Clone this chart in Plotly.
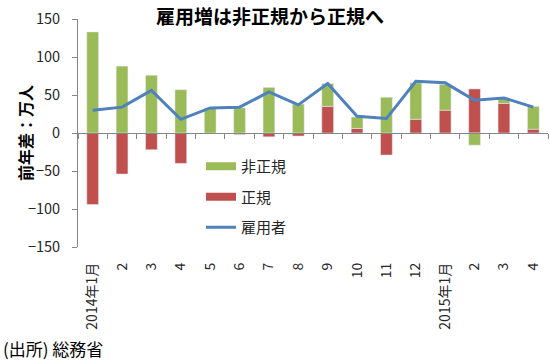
import plotly.graph_objects as go

periods = ["2014-01", "2014-02", "2014-03", "2014-04", "2014-05", "2014-06",
           "2014-07", "2014-08", "2014-09", "2014-10", "2014-11", "2014-12",
           "2015-01", "2015-02", "2015-03", "2015-04"]
tick_labels = ["2014年1月", "2", "3", "4", "5", "6", "7", "8", "9", "10", "11", "12",
               "2015年1月", "2", "3", "4"]
non_regular = [133, 88, 76, 57, 33, 33, 60, 38, 30, 15, 47, 48, 34, -16, 7, 30]
regular = [-94, -54, -22, -40, 0, -2, -5, -4, 35, 6, -29, 18, 30, 58, 39, 5]
employed = [30, 34, 56, 18, 33, 34, 54, 37, 65, 22, 19, 68, 66, 43, 46, 34]

GREEN = "#9BBB59"
RED = "#C0504D"
BLUE = "#4F81BD"
AXIS = "#868686"
FONT = "Noto Sans CJK JP"

fig = go.Figure()

fig.add_trace(go.Bar(x=periods, y=regular, name="正規", marker_color=RED,
                     legendgroup="reg", showlegend=False, xaxis="x", yaxis="y"))
fig.add_trace(go.Bar(x=periods, y=non_regular, name="非正規", marker_color=GREEN,
                     legendgroup="nonreg", showlegend=False, xaxis="x", yaxis="y"))
fig.add_trace(go.Scatter(x=periods, y=employed, name="雇用者", mode="lines",
                         line=dict(color=BLUE, width=3), legendgroup="emp",
                         legendrank=3, xaxis="x2", yaxis="y"))
# legend keys drawn as wide bands, linked to the bar traces
fig.add_trace(go.Scatter(x=[None], y=[None], name="非正規", mode="lines",
                         line=dict(color=GREEN, width=8), legendgroup="nonreg",
                         legendrank=1, xaxis="x2", yaxis="y", hoverinfo="skip"))
fig.add_trace(go.Scatter(x=[None], y=[None], name="正規", mode="lines",
                         line=dict(color=RED, width=8), legendgroup="reg",
                         legendrank=2, xaxis="x2", yaxis="y", hoverinfo="skip"))

fig.update_layout(
    width=550, height=361,
    margin=dict(l=78, r=2, t=19, b=114, autoexpand=False),
    paper_bgcolor="white", plot_bgcolor="white",
    font=dict(family=FONT, size=14, color="#262626"),
    barmode="relative", bargap=0.6,
    title=dict(text="<b>雇用増は非正規から正規へ</b>", x=270 / 550, xanchor="center",
               y=1 - 17 / 361, yanchor="middle", font=dict(size=19, color="#000000")),
    xaxis=dict(type="category", categoryorder="array", categoryarray=periods,
               range=[-0.5, 15.5], tickvals=periods, ticktext=tick_labels,
               tickangle=-90, showline=False, ticks="", showgrid=False,
               zeroline=False, tickfont=dict(size=14, color="#262626"),
               ticklabelstandoff=12, automargin=False),
    xaxis2=dict(type="category", categoryorder="array", categoryarray=periods,
                range=[-0.5, 15.5], overlaying="x", anchor="free", position=0.5,
                showline=True, linecolor=AXIS, linewidth=1, ticks="outside",
                ticklen=5, tickcolor=AXIS, tickson="boundaries",
                showticklabels=False, showgrid=False, zeroline=False,
                automargin=False),
    yaxis=dict(range=[-150, 150], dtick=50, tick0=0, showline=True, linecolor=AXIS,
               ticks="outside", ticklen=5, tickcolor=AXIS, showgrid=False,
               zeroline=False, tickfont=dict(size=14.5, color="#262626"),
               ticklabelstandoff=9, automargin=False),
    legend=dict(x=(201 - 78) / 470, xanchor="left", y=(247 - 150) / 228, yanchor="top",
                traceorder="grouped", tracegroupgap=8, bgcolor="rgba(0,0,0,0)",
                font=dict(size=15, color="#262626"), itemwidth=30),
    annotations=[
        dict(text="<b>前年差：万人</b>", xref="paper", yref="paper",
             x=(25 - 78) / 470, y=0.5, xanchor="center", yanchor="middle",
             textangle=-90, showarrow=False,
             font=dict(size=16, color="#000000")),
        dict(text="(出所) 総務省", xref="paper", yref="paper",
             x=(1 - 78) / 470, y=(247 - 348) / 228, xanchor="left",
             yanchor="middle", showarrow=False,
             font=dict(size=17, color="#000000")),
    ],
)

fig.write_html("out.html", post_script="document.body.style.margin='0';",
               config={"displayModeBar": False})
